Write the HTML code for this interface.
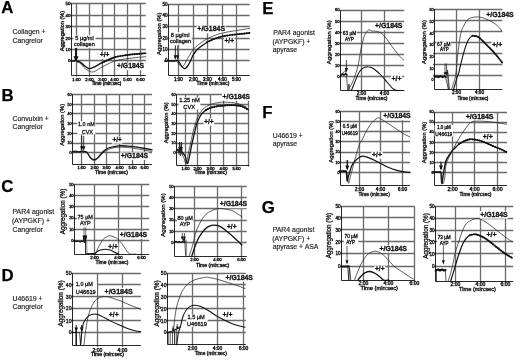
<!DOCTYPE html>
<html><head><meta charset="utf-8"><title>Figure</title>
<style>html,body{margin:0;padding:0;background:#fff;}svg{display:block;}</style>
</head><body>
<svg width="520" height="360" viewBox="0 0 520 360" font-family="'Liberation Sans', sans-serif">
<rect width="520" height="360" fill="#fff"/>
<line x1="70.0" y1="3.5" x2="145.8" y2="3.5" stroke="#6a6a6a" stroke-width="1.3"/>
<text x="70.5" y="5.4" font-size="4.4" text-anchor="end" fill="#111" stroke="#111" stroke-width="0.32">50</text>
<line x1="70.0" y1="15.5" x2="145.8" y2="15.5" stroke="#6a6a6a" stroke-width="1.3"/>
<text x="70.5" y="16.9" font-size="4.4" text-anchor="end" fill="#111" stroke="#111" stroke-width="0.32">40</text>
<line x1="70.0" y1="26.5" x2="145.8" y2="26.5" stroke="#6a6a6a" stroke-width="1.3"/>
<text x="70.5" y="28.3" font-size="4.4" text-anchor="end" fill="#111" stroke="#111" stroke-width="0.32">30</text>
<line x1="70.0" y1="38.5" x2="145.8" y2="38.5" stroke="#6a6a6a" stroke-width="1.3"/>
<text x="70.5" y="39.8" font-size="4.4" text-anchor="end" fill="#111" stroke="#111" stroke-width="0.32">20</text>
<line x1="70.0" y1="49.5" x2="145.8" y2="49.5" stroke="#6a6a6a" stroke-width="1.3"/>
<text x="70.5" y="51.3" font-size="4.4" text-anchor="end" fill="#111" stroke="#111" stroke-width="0.32">10</text>
<line x1="70.0" y1="60.5" x2="145.8" y2="60.5" stroke="#6a6a6a" stroke-width="1.3"/>
<text x="70.5" y="62.4" font-size="4.4" text-anchor="end" fill="#111" stroke="#111" stroke-width="0.32">0</text>
<line x1="76.5" y1="3.5" x2="76.5" y2="76.7" stroke="#6a6a6a" stroke-width="1.3"/>
<text x="76.5" y="80.5" font-size="4.3" text-anchor="middle" fill="#111" stroke="#111" stroke-width="0.36">1:00</text>
<line x1="89.5" y1="3.5" x2="89.5" y2="76.7" stroke="#6a6a6a" stroke-width="1.3"/>
<text x="89.5" y="80.5" font-size="4.3" text-anchor="middle" fill="#111" stroke="#111" stroke-width="0.36">2:00</text>
<line x1="102.5" y1="3.5" x2="102.5" y2="76.7" stroke="#6a6a6a" stroke-width="1.3"/>
<text x="102.5" y="80.5" font-size="4.3" text-anchor="middle" fill="#111" stroke="#111" stroke-width="0.36">3:00</text>
<line x1="114.5" y1="3.5" x2="114.5" y2="76.7" stroke="#6a6a6a" stroke-width="1.3"/>
<text x="114.5" y="80.5" font-size="4.3" text-anchor="middle" fill="#111" stroke="#111" stroke-width="0.36">4:00</text>
<line x1="127.5" y1="3.5" x2="127.5" y2="76.7" stroke="#6a6a6a" stroke-width="1.3"/>
<text x="127.5" y="80.5" font-size="4.3" text-anchor="middle" fill="#111" stroke="#111" stroke-width="0.36">5:00</text>
<line x1="140.5" y1="3.5" x2="140.5" y2="76.7" stroke="#6a6a6a" stroke-width="1.3"/>
<text x="140.5" y="80.5" font-size="4.3" text-anchor="middle" fill="#111" stroke="#111" stroke-width="0.36">6:00</text>
<line x1="71.5" y1="3.5" x2="71.5" y2="75.5" stroke="#111" stroke-width="0.9"/>
<line x1="71.5" y1="75.5" x2="145.8" y2="75.5" stroke="#111" stroke-width="0.9"/>
<rect x="73.4" y="35.2" width="22.1" height="12.6" fill="#fff"/>
<rect x="99.3" y="51.6" width="10.6" height="7.2" fill="#fff"/>
<rect x="116.4" y="62.7" width="28.2" height="7.5" fill="#fff"/>
<text x="63.8" y="31.0" font-size="5.6" text-anchor="middle" fill="#111" stroke="#111" stroke-width="0.3" transform="rotate(-90 63.8 31.0)">Aggregation (%)</text>
<text x="106.5" y="84.8" font-size="4.5" text-anchor="middle" fill="#111" stroke="#111" stroke-width="0.36">Time (min:sec)</text>
<path d="M71.0,60.8 C71.6,60.8 73.7,61.2 74.5,61.0 C75.3,60.8 75.4,59.4 75.8,59.5 C76.2,59.6 76.3,61.1 77.0,61.5 C77.7,61.9 78.8,61.1 80.0,61.8 C81.2,62.4 82.5,64.3 84.0,65.4 C85.5,66.5 87.4,68.3 89.0,68.6 C90.6,68.9 91.6,68.2 93.8,67.2 C96.0,66.2 98.9,64.3 102.3,62.7 C105.7,61.1 109.8,58.8 114.0,57.5 C118.2,56.2 123.5,55.6 127.3,55.0 C131.1,54.4 133.9,54.3 137.0,54.0 C140.1,53.7 144.3,53.4 145.8,53.3" fill="none" stroke="#111" stroke-width="1.4" stroke-linejoin="round" stroke-linecap="round"/>
<path d="M102.3,62.7 C104.2,61.8 109.8,58.8 114.0,57.5 C118.2,56.2 123.5,55.6 127.3,55.0 C131.1,54.4 133.9,54.3 137.0,54.0 C140.1,53.7 144.3,53.4 145.8,53.3" fill="none" stroke="#111" stroke-width="1.9" stroke-linecap="round" stroke-dasharray="0.01 2.4"/>
<path d="M71.0,61.2 C71.6,61.2 73.7,61.7 74.5,61.5 C75.3,61.3 75.4,59.9 75.8,60.0 C76.2,60.1 76.3,61.5 77.0,62.0 C77.7,62.5 78.7,61.9 80.0,63.0 C81.3,64.1 83.1,66.9 85.0,68.4 C86.9,69.9 89.4,71.5 91.3,71.9 C93.2,72.3 94.4,71.4 96.2,70.6 C98.0,69.8 99.3,68.5 102.3,67.0 C105.3,65.5 109.8,62.7 114.0,61.3 C118.2,59.9 123.5,59.3 127.3,58.7 C131.1,58.1 133.9,57.8 137.0,57.5 C140.1,57.2 144.3,56.8 145.8,56.7" fill="none" stroke="#262626" stroke-width="0.75" stroke-linejoin="round" stroke-linecap="round"/>
<line x1="76.0" y1="48.0" x2="76.0" y2="60.0" stroke="#111" stroke-width="1.9"/>
<path d="M73.4,56.3 L78.6,56.3 L76.0,61.5Z" fill="#111"/>
<text x="75.3" y="39.8" font-size="5.6" fill="#111" stroke="#111" stroke-width="0.3">5 µg/ml</text>
<text x="74.0" y="46.0" font-size="5.6" fill="#111" stroke="#111" stroke-width="0.3">collagen</text>
<text x="99.9" y="56.9" font-size="6.5" font-weight="bold" fill="#111" stroke="#111" stroke-width="0.3">+/+</text>
<text x="117.0" y="68.2" font-size="6.8" font-weight="bold" fill="#111" stroke="#111" stroke-width="0.3">+/G184S</text>
<line x1="167.0" y1="4.5" x2="249.7" y2="4.5" stroke="#6a6a6a" stroke-width="1.3"/>
<text x="167.5" y="5.8" font-size="4.5" text-anchor="end" fill="#111" stroke="#111" stroke-width="0.32">50</text>
<line x1="167.0" y1="15.5" x2="249.7" y2="15.5" stroke="#6a6a6a" stroke-width="1.3"/>
<text x="167.5" y="16.9" font-size="4.5" text-anchor="end" fill="#111" stroke="#111" stroke-width="0.32">40</text>
<line x1="167.0" y1="26.5" x2="249.7" y2="26.5" stroke="#6a6a6a" stroke-width="1.3"/>
<text x="167.5" y="28.3" font-size="4.5" text-anchor="end" fill="#111" stroke="#111" stroke-width="0.32">30</text>
<line x1="167.0" y1="38.5" x2="249.7" y2="38.5" stroke="#6a6a6a" stroke-width="1.3"/>
<text x="167.5" y="39.7" font-size="4.5" text-anchor="end" fill="#111" stroke="#111" stroke-width="0.32">20</text>
<line x1="167.0" y1="49.5" x2="249.7" y2="49.5" stroke="#6a6a6a" stroke-width="1.3"/>
<text x="167.5" y="51.3" font-size="4.5" text-anchor="end" fill="#111" stroke="#111" stroke-width="0.32">10</text>
<line x1="167.0" y1="60.5" x2="249.7" y2="60.5" stroke="#6a6a6a" stroke-width="1.3"/>
<text x="167.5" y="62.4" font-size="4.5" text-anchor="end" fill="#111" stroke="#111" stroke-width="0.32">0</text>
<line x1="178.5" y1="4.5" x2="178.5" y2="76.7" stroke="#6a6a6a" stroke-width="1.3"/>
<text x="178.5" y="80.7" font-size="4.5" text-anchor="middle" fill="#111" stroke="#111" stroke-width="0.36">1:00</text>
<line x1="193.5" y1="4.5" x2="193.5" y2="76.7" stroke="#6a6a6a" stroke-width="1.3"/>
<text x="193.5" y="80.7" font-size="4.5" text-anchor="middle" fill="#111" stroke="#111" stroke-width="0.36">2:00</text>
<line x1="207.5" y1="4.5" x2="207.5" y2="76.7" stroke="#6a6a6a" stroke-width="1.3"/>
<text x="207.5" y="80.7" font-size="4.5" text-anchor="middle" fill="#111" stroke="#111" stroke-width="0.36">3:00</text>
<line x1="222.5" y1="4.5" x2="222.5" y2="76.7" stroke="#6a6a6a" stroke-width="1.3"/>
<text x="222.5" y="80.7" font-size="4.5" text-anchor="middle" fill="#111" stroke="#111" stroke-width="0.36">4:00</text>
<line x1="236.5" y1="4.5" x2="236.5" y2="76.7" stroke="#6a6a6a" stroke-width="1.3"/>
<text x="236.5" y="80.7" font-size="4.5" text-anchor="middle" fill="#111" stroke="#111" stroke-width="0.36">5:00</text>
<line x1="168.5" y1="4.5" x2="168.5" y2="75.5" stroke="#111" stroke-width="0.9"/>
<line x1="168.5" y1="75.5" x2="249.7" y2="75.5" stroke="#111" stroke-width="0.9"/>
<rect x="169.4" y="32.3" width="22.4" height="12.4" fill="#fff"/>
<rect x="196.7" y="25.7" width="29.0" height="7.6" fill="#fff"/>
<rect x="223.9" y="37.8" width="10.7" height="7.3" fill="#fff"/>
<text x="160.6" y="33.7" font-size="5.9" text-anchor="middle" fill="#111" stroke="#111" stroke-width="0.3" transform="rotate(-90 160.6 33.7)">Aggregation (%)</text>
<text x="213.0" y="85.0" font-size="5.0" text-anchor="middle" fill="#111" stroke="#111" stroke-width="0.36">Time (min:sec)</text>
<path d="M164.5,60.8 C166.1,60.8 171.7,61.0 173.8,61.0 C175.9,61.0 176.1,60.3 177.0,60.5 C177.9,60.7 178.2,61.1 179.0,62.0 C179.8,62.9 180.6,64.9 181.5,66.0 C182.4,67.1 183.5,68.6 184.5,68.7 C185.5,68.8 186.4,67.7 187.3,66.5 C188.2,65.3 189.2,63.5 190.2,61.5 C191.2,59.5 192.1,56.6 193.5,54.4 C194.9,52.2 196.3,50.3 198.6,48.3 C200.9,46.3 204.3,43.9 207.1,42.2 C209.9,40.6 212.9,39.4 215.6,38.4 C218.3,37.4 219.7,36.9 223.2,36.2 C226.7,35.5 232.3,34.8 236.7,34.3 C241.1,33.8 247.5,33.2 249.7,33.0" fill="none" stroke="#111" stroke-width="1.3" stroke-linejoin="round" stroke-linecap="round"/>
<path d="M207.1,42.2 C208.5,41.6 212.9,39.4 215.6,38.4 C218.3,37.4 219.7,36.9 223.2,36.2 C226.7,35.5 232.3,34.8 236.7,34.3 C241.1,33.8 247.5,33.2 249.7,33.0" fill="none" stroke="#111" stroke-width="1.9" stroke-linecap="round" stroke-dasharray="0.01 2.4"/>
<path d="M164.5,61.2 C166.1,61.2 171.9,61.6 173.8,61.5 C175.8,61.4 175.5,60.5 176.2,60.8 C176.9,61.0 177.1,62.0 178.0,63.0 C178.9,64.0 180.7,66.7 181.7,67.0 C182.7,67.3 183.2,66.0 184.0,65.0 C184.8,64.0 185.2,62.8 186.2,61.0 C187.2,59.2 189.0,56.0 190.2,54.0 C191.4,52.0 192.1,50.8 193.5,49.2 C194.9,47.6 196.3,46.2 198.6,44.5 C200.9,42.8 204.3,40.4 207.1,38.8 C209.9,37.2 212.9,36.1 215.6,35.1 C218.3,34.1 219.7,33.6 223.2,32.8 C226.7,32.0 232.3,31.2 236.7,30.5 C241.1,29.8 247.5,28.7 249.7,28.3" fill="none" stroke="#262626" stroke-width="0.75" stroke-linejoin="round" stroke-linecap="round"/>
<line x1="175.3" y1="45.4" x2="175.3" y2="58.4" stroke="#111" stroke-width="0.9"/>
<path d="M173.7,55.3 L176.9,55.3 L175.3,59.9Z" fill="#111"/>
<line x1="177.6" y1="45.4" x2="177.6" y2="58.4" stroke="#111" stroke-width="0.6"/>
<path d="M176.1,55.3 L179.1,55.3 L177.6,59.9Z" fill="#111"/>
<text x="170.7" y="37.0" font-size="5.7" fill="#111" stroke="#111" stroke-width="0.3">8 µg/ml</text>
<text x="170.0" y="43.0" font-size="5.7" fill="#111" stroke="#111" stroke-width="0.3">collagen</text>
<text x="197.3" y="31.3" font-size="7.0" font-weight="bold" fill="#111" stroke="#111" stroke-width="0.3">+/G184S</text>
<text x="224.5" y="43.2" font-size="6.6" font-weight="bold" fill="#111" stroke="#111" stroke-width="0.3">+/+</text>
<line x1="71.0" y1="94.5" x2="152.0" y2="94.5" stroke="#6a6a6a" stroke-width="1.3"/>
<text x="71.5" y="95.6" font-size="3.5" text-anchor="end" fill="#111" stroke="#111" stroke-width="0.32">60</text>
<line x1="71.0" y1="104.5" x2="152.0" y2="104.5" stroke="#6a6a6a" stroke-width="1.3"/>
<text x="71.5" y="105.5" font-size="3.5" text-anchor="end" fill="#111" stroke="#111" stroke-width="0.32">50</text>
<line x1="71.0" y1="113.5" x2="152.0" y2="113.5" stroke="#6a6a6a" stroke-width="1.3"/>
<text x="71.5" y="115.1" font-size="3.5" text-anchor="end" fill="#111" stroke="#111" stroke-width="0.32">40</text>
<line x1="71.0" y1="123.5" x2="152.0" y2="123.5" stroke="#6a6a6a" stroke-width="1.3"/>
<text x="71.5" y="124.8" font-size="3.5" text-anchor="end" fill="#111" stroke="#111" stroke-width="0.32">30</text>
<line x1="71.0" y1="133.5" x2="152.0" y2="133.5" stroke="#6a6a6a" stroke-width="1.3"/>
<text x="71.5" y="134.5" font-size="3.5" text-anchor="end" fill="#111" stroke="#111" stroke-width="0.32">20</text>
<line x1="71.0" y1="143.5" x2="152.0" y2="143.5" stroke="#6a6a6a" stroke-width="1.3"/>
<text x="71.5" y="144.3" font-size="3.5" text-anchor="end" fill="#111" stroke="#111" stroke-width="0.32">10</text>
<line x1="71.0" y1="152.5" x2="152.0" y2="152.5" stroke="#6a6a6a" stroke-width="1.3"/>
<text x="71.5" y="154.1" font-size="3.5" text-anchor="end" fill="#111" stroke="#111" stroke-width="0.32">0</text>
<line x1="81.5" y1="94.5" x2="81.5" y2="165.7" stroke="#6a6a6a" stroke-width="1.3"/>
<text x="81.5" y="169.1" font-size="4.2" text-anchor="middle" fill="#111" stroke="#111" stroke-width="0.36">1:00</text>
<line x1="94.5" y1="94.5" x2="94.5" y2="165.7" stroke="#6a6a6a" stroke-width="1.3"/>
<text x="94.5" y="169.1" font-size="4.2" text-anchor="middle" fill="#111" stroke="#111" stroke-width="0.36">2:00</text>
<line x1="106.5" y1="94.5" x2="106.5" y2="165.7" stroke="#6a6a6a" stroke-width="1.3"/>
<text x="106.5" y="169.1" font-size="4.2" text-anchor="middle" fill="#111" stroke="#111" stroke-width="0.36">3:00</text>
<line x1="119.5" y1="94.5" x2="119.5" y2="165.7" stroke="#6a6a6a" stroke-width="1.3"/>
<text x="119.5" y="169.1" font-size="4.2" text-anchor="middle" fill="#111" stroke="#111" stroke-width="0.36">4:00</text>
<line x1="132.5" y1="94.5" x2="132.5" y2="165.7" stroke="#6a6a6a" stroke-width="1.3"/>
<text x="132.5" y="169.1" font-size="4.2" text-anchor="middle" fill="#111" stroke="#111" stroke-width="0.36">5:00</text>
<line x1="144.5" y1="94.5" x2="144.5" y2="165.7" stroke="#6a6a6a" stroke-width="1.3"/>
<text x="144.5" y="169.1" font-size="4.2" text-anchor="middle" fill="#111" stroke="#111" stroke-width="0.36">6:00</text>
<line x1="72.5" y1="94.5" x2="72.5" y2="164.5" stroke="#111" stroke-width="0.9"/>
<line x1="72.5" y1="164.5" x2="152.0" y2="164.5" stroke="#111" stroke-width="0.9"/>
<rect x="77.4" y="121.4" width="18.0" height="13.0" fill="#fff"/>
<rect x="111.9" y="136.5" width="10.5" height="7.1" fill="#fff"/>
<rect x="120.2" y="152.4" width="28.6" height="7.5" fill="#fff"/>
<text x="64.5" y="124.8" font-size="5.8" text-anchor="middle" fill="#111" stroke="#111" stroke-width="0.3" transform="rotate(-90 64.5 124.8)">Aggregation (%)</text>
<text x="111.5" y="173.5" font-size="5.0" text-anchor="middle" fill="#111" stroke="#111" stroke-width="0.36">Time (min:sec)</text>
<path d="M72.5,151.7 C72.9,151.6 74.0,151.2 75.0,151.2 C76.0,151.2 77.5,151.8 78.8,151.8 C80.0,151.8 81.3,151.2 82.5,151.2 C83.7,151.2 84.8,151.2 85.8,151.7 C86.8,152.2 87.5,153.1 88.3,154.2 C89.1,155.2 89.8,157.1 90.8,158.0 C91.8,158.9 93.1,159.8 94.2,159.8 C95.3,159.8 96.4,158.9 97.5,158.0 C98.6,157.1 99.5,155.5 100.8,154.2 C102.0,152.9 103.5,151.1 105.0,150.0 C106.5,148.9 107.8,148.2 110.0,147.5 C112.2,146.8 115.6,146.1 118.3,145.8 C121.0,145.6 123.5,145.8 126.0,146.0 C128.5,146.2 130.1,146.3 133.3,146.7 C136.5,147.1 141.9,148.0 145.0,148.5 C148.1,149.0 150.8,149.5 152.0,149.7" fill="none" stroke="#111" stroke-width="1.3" stroke-linejoin="round" stroke-linecap="round"/>
<path d="M72.5,152.4 C73.5,152.4 76.6,152.2 78.8,152.2 C81.0,152.2 84.2,151.9 85.8,152.4 C87.4,152.9 87.5,153.9 88.3,154.9 C89.1,155.9 89.8,157.8 90.8,158.7 C91.8,159.6 93.1,160.5 94.2,160.5 C95.3,160.5 96.4,159.7 97.5,158.8 C98.6,157.9 99.5,156.5 100.8,155.2 C102.0,153.9 103.5,152.3 105.0,151.2 C106.5,150.1 107.8,149.5 110.0,148.8 C112.2,148.1 115.6,147.4 118.3,147.2 C121.0,147.0 123.5,147.2 126.0,147.4 C128.5,147.6 130.1,147.7 133.3,148.2 C136.5,148.7 141.9,149.7 145.0,150.2 C148.1,150.7 150.8,151.1 152.0,151.3" fill="none" stroke="#262626" stroke-width="0.75" stroke-linejoin="round" stroke-linecap="round"/>
<line x1="81.7" y1="135.8" x2="81.7" y2="149.3" stroke="#111" stroke-width="0.8"/>
<path d="M80.1,146.3 L83.3,146.3 L81.7,150.8Z" fill="#111"/>
<line x1="83.7" y1="135.8" x2="83.7" y2="149.3" stroke="#111" stroke-width="0.8"/>
<path d="M82.1,146.3 L85.3,146.3 L83.7,150.8Z" fill="#111"/>
<text x="78.0" y="126.0" font-size="5.5" fill="#111" stroke="#111" stroke-width="0.3">1.0 nM</text>
<text x="81.7" y="133.8" font-size="5.5" fill="#111" stroke="#111" stroke-width="0.3">CVX</text>
<text x="112.5" y="141.7" font-size="6.4" font-weight="bold" fill="#111" stroke="#111" stroke-width="0.3">+/+</text>
<text x="120.8" y="158.0" font-size="6.9" font-weight="bold" fill="#111" stroke="#111" stroke-width="0.3">+/G184S</text>
<line x1="175.0" y1="94.5" x2="249.2" y2="94.5" stroke="#6a6a6a" stroke-width="1.3"/>
<text x="175.5" y="95.6" font-size="3.5" text-anchor="end" fill="#111" stroke="#111" stroke-width="0.32">60</text>
<line x1="175.0" y1="104.5" x2="249.2" y2="104.5" stroke="#6a6a6a" stroke-width="1.3"/>
<text x="175.5" y="105.5" font-size="3.5" text-anchor="end" fill="#111" stroke="#111" stroke-width="0.32">50</text>
<line x1="175.0" y1="113.5" x2="249.2" y2="113.5" stroke="#6a6a6a" stroke-width="1.3"/>
<text x="175.5" y="115.1" font-size="3.5" text-anchor="end" fill="#111" stroke="#111" stroke-width="0.32">40</text>
<line x1="175.0" y1="123.5" x2="249.2" y2="123.5" stroke="#6a6a6a" stroke-width="1.3"/>
<text x="175.5" y="124.6" font-size="3.5" text-anchor="end" fill="#111" stroke="#111" stroke-width="0.32">30</text>
<line x1="175.0" y1="133.5" x2="249.2" y2="133.5" stroke="#6a6a6a" stroke-width="1.3"/>
<text x="175.5" y="134.5" font-size="3.5" text-anchor="end" fill="#111" stroke="#111" stroke-width="0.32">20</text>
<line x1="175.0" y1="143.5" x2="249.2" y2="143.5" stroke="#6a6a6a" stroke-width="1.3"/>
<text x="175.5" y="144.3" font-size="3.5" text-anchor="end" fill="#111" stroke="#111" stroke-width="0.32">10</text>
<line x1="175.0" y1="152.5" x2="249.2" y2="152.5" stroke="#6a6a6a" stroke-width="1.3"/>
<text x="175.5" y="154.1" font-size="3.5" text-anchor="end" fill="#111" stroke="#111" stroke-width="0.32">0</text>
<line x1="185.5" y1="94.5" x2="185.5" y2="166.7" stroke="#6a6a6a" stroke-width="1.3"/>
<text x="185.5" y="170.0" font-size="4.2" text-anchor="middle" fill="#111" stroke="#111" stroke-width="0.36">1:00</text>
<line x1="197.5" y1="94.5" x2="197.5" y2="166.7" stroke="#6a6a6a" stroke-width="1.3"/>
<text x="197.5" y="170.0" font-size="4.2" text-anchor="middle" fill="#111" stroke="#111" stroke-width="0.36">2:00</text>
<line x1="210.5" y1="94.5" x2="210.5" y2="166.7" stroke="#6a6a6a" stroke-width="1.3"/>
<text x="210.5" y="170.0" font-size="4.2" text-anchor="middle" fill="#111" stroke="#111" stroke-width="0.36">3:00</text>
<line x1="223.5" y1="94.5" x2="223.5" y2="166.7" stroke="#6a6a6a" stroke-width="1.3"/>
<text x="223.5" y="170.0" font-size="4.2" text-anchor="middle" fill="#111" stroke="#111" stroke-width="0.36">4:00</text>
<line x1="236.5" y1="94.5" x2="236.5" y2="166.7" stroke="#6a6a6a" stroke-width="1.3"/>
<text x="236.5" y="170.0" font-size="4.2" text-anchor="middle" fill="#111" stroke="#111" stroke-width="0.36">5:00</text>
<line x1="248.5" y1="94.5" x2="248.5" y2="166.7" stroke="#6a6a6a" stroke-width="1.3"/>
<line x1="176.5" y1="94.5" x2="176.5" y2="165.5" stroke="#111" stroke-width="0.9"/>
<line x1="176.5" y1="165.5" x2="249.2" y2="165.5" stroke="#111" stroke-width="0.9"/>
<rect x="178.6" y="97.5" width="21.8" height="11.9" fill="#fff"/>
<rect x="221.9" y="93.2" width="28.6" height="7.5" fill="#fff"/>
<rect x="203.6" y="118.4" width="10.7" height="7.3" fill="#fff"/>
<text x="168.5" y="122.8" font-size="5.7" text-anchor="middle" fill="#111" stroke="#111" stroke-width="0.3" transform="rotate(-90 168.5 122.8)">Aggregation (%)</text>
<text x="210.7" y="174.0" font-size="4.9" text-anchor="middle" fill="#111" stroke="#111" stroke-width="0.36">Time (min:sec)</text>
<path d="M176.3,151.0 C176.6,150.7 177.5,148.9 178.0,149.2 C178.5,149.4 178.8,152.7 179.2,152.5 C179.6,152.3 180.1,148.1 180.5,148.0 C180.9,147.9 181.1,150.5 181.8,151.8 C182.6,153.1 184.1,153.8 185.0,155.8 C185.9,157.8 186.8,163.7 187.5,163.7 C188.2,163.7 188.8,159.1 189.5,156.0 C190.2,152.9 190.9,148.7 191.7,145.0 C192.5,141.3 193.4,137.4 194.2,134.0 C195.0,130.6 195.7,127.0 196.6,124.3 C197.5,121.5 198.6,119.3 199.5,117.5 C200.4,115.7 201.2,114.5 202.3,113.2 C203.4,112.0 204.8,110.9 206.0,110.0 C207.2,109.1 208.2,108.6 209.8,108.0 C211.4,107.4 213.6,107.0 215.5,106.6 C217.4,106.2 218.5,106.0 221.2,105.8 C223.9,105.6 228.3,105.1 231.7,105.2 C235.1,105.3 238.9,105.5 241.7,106.3 C244.5,107.0 247.2,109.1 248.3,109.7" fill="none" stroke="#111" stroke-width="1.3" stroke-linejoin="round" stroke-linecap="round"/>
<path d="M206.0,110.0 C206.6,109.7 208.2,108.6 209.8,108.0 C211.4,107.4 213.6,107.0 215.5,106.6 C217.4,106.2 218.5,106.0 221.2,105.8 C223.9,105.6 228.3,105.1 231.7,105.2 C235.1,105.3 238.9,105.5 241.7,106.3 C244.5,107.0 247.2,109.1 248.3,109.7" fill="none" stroke="#111" stroke-width="2.1" stroke-linecap="round" stroke-dasharray="0.01 2.2"/>
<path d="M176.3,151.8 C176.7,151.6 178.0,150.4 178.8,150.5 C179.6,150.6 180.2,151.4 181.0,152.5 C181.8,153.6 182.6,155.1 183.5,157.0 C184.4,158.9 185.6,164.3 186.3,164.0 C187.1,163.7 187.3,158.2 188.0,155.0 C188.7,151.8 189.4,148.5 190.2,145.0 C191.0,141.5 191.8,137.5 192.6,134.0 C193.4,130.5 194.4,126.8 195.2,124.0 C196.0,121.2 196.7,119.5 197.6,117.5 C198.5,115.5 199.3,113.9 200.4,112.3 C201.5,110.7 202.8,109.2 204.2,108.0 C205.6,106.8 207.2,106.0 208.9,105.2 C210.6,104.4 212.6,103.8 214.6,103.3 C216.6,102.8 219.2,102.4 221.2,102.2 C223.2,102.0 224.1,102.0 226.7,102.2 C229.3,102.4 233.4,102.5 236.7,103.3 C240.0,104.1 245.0,106.5 246.7,107.2" fill="none" stroke="#262626" stroke-width="0.75" stroke-linejoin="round" stroke-linecap="round"/>
<path d="M179.0,155.0 L179.5,142.0 L180.5,156.0 L181.5,142.5 L182.3,155.0" fill="none" stroke="#262626" stroke-width="0.75" stroke-linejoin="round" stroke-linecap="round"/>
<line x1="179.6" y1="142.0" x2="179.6" y2="149.0" stroke="#111" stroke-width="0.7"/>
<path d="M178.2,146.9 L181.0,146.9 L179.6,150.5Z" fill="#111"/>
<line x1="181.3" y1="142.0" x2="181.3" y2="149.0" stroke="#111" stroke-width="0.7"/>
<path d="M179.9,146.9 L182.7,146.9 L181.3,150.5Z" fill="#111"/>
<text x="179.2" y="102.2" font-size="5.7" fill="#111" stroke="#111" stroke-width="0.3">1.25 nM</text>
<text x="183.3" y="108.8" font-size="5.7" fill="#111" stroke="#111" stroke-width="0.3">CVX</text>
<text x="222.5" y="98.8" font-size="6.9" font-weight="bold" fill="#111" stroke="#111" stroke-width="0.3">+/G184S</text>
<text x="204.2" y="123.8" font-size="6.6" font-weight="bold" fill="#111" stroke="#111" stroke-width="0.3">+/+</text>
<line x1="73.0" y1="184.5" x2="149.2" y2="184.5" stroke="#6a6a6a" stroke-width="1.3"/>
<text x="73.5" y="185.7" font-size="3.9" text-anchor="end" fill="#111" stroke="#111" stroke-width="0.32">50</text>
<line x1="73.0" y1="195.5" x2="149.2" y2="195.5" stroke="#6a6a6a" stroke-width="1.3"/>
<text x="73.5" y="196.9" font-size="3.9" text-anchor="end" fill="#111" stroke="#111" stroke-width="0.32">40</text>
<line x1="73.0" y1="206.5" x2="149.2" y2="206.5" stroke="#6a6a6a" stroke-width="1.3"/>
<text x="73.5" y="208.1" font-size="3.9" text-anchor="end" fill="#111" stroke="#111" stroke-width="0.32">30</text>
<line x1="73.0" y1="218.5" x2="149.2" y2="218.5" stroke="#6a6a6a" stroke-width="1.3"/>
<text x="73.5" y="219.4" font-size="3.9" text-anchor="end" fill="#111" stroke="#111" stroke-width="0.32">20</text>
<line x1="73.0" y1="229.5" x2="149.2" y2="229.5" stroke="#6a6a6a" stroke-width="1.3"/>
<text x="73.5" y="230.7" font-size="3.9" text-anchor="end" fill="#111" stroke="#111" stroke-width="0.32">10</text>
<line x1="73.0" y1="240.5" x2="149.2" y2="240.5" stroke="#6a6a6a" stroke-width="1.3"/>
<text x="73.5" y="241.9" font-size="3.9" text-anchor="end" fill="#111" stroke="#111" stroke-width="0.32">0</text>
<line x1="94.5" y1="184.5" x2="94.5" y2="255.7" stroke="#6a6a6a" stroke-width="1.3"/>
<text x="94.5" y="258.8" font-size="4.4" text-anchor="middle" fill="#111" stroke="#111" stroke-width="0.36">2:00</text>
<line x1="118.5" y1="184.5" x2="118.5" y2="255.7" stroke="#6a6a6a" stroke-width="1.3"/>
<text x="118.5" y="258.8" font-size="4.4" text-anchor="middle" fill="#111" stroke="#111" stroke-width="0.36">4:00</text>
<line x1="141.5" y1="184.5" x2="141.5" y2="255.7" stroke="#6a6a6a" stroke-width="1.3"/>
<text x="141.5" y="258.8" font-size="4.4" text-anchor="middle" fill="#111" stroke="#111" stroke-width="0.36">6:00</text>
<line x1="74.5" y1="184.5" x2="74.5" y2="254.5" stroke="#111" stroke-width="0.9"/>
<line x1="74.5" y1="254.5" x2="149.2" y2="254.5" stroke="#111" stroke-width="0.9"/>
<rect x="76.9" y="214.7" width="16.6" height="11.2" fill="#fff"/>
<rect x="119.2" y="231.2" width="28.6" height="7.5" fill="#fff"/>
<rect x="107.7" y="243.8" width="10.7" height="7.3" fill="#fff"/>
<text x="65.3" y="211.5" font-size="6.3" text-anchor="middle" fill="#111" stroke="#111" stroke-width="0.3" transform="rotate(-90 65.3 211.5)">Aggregation (%)</text>
<text x="112.0" y="263.8" font-size="5.0" text-anchor="middle" fill="#111" stroke="#111" stroke-width="0.36">Time (min:sec)</text>
<path d="M73.5,241.0 L75.0,240.8 L76.5,241.6 L78.0,241.0 L80.0,241.8 L81.5,241.2 L83.0,241.6" fill="none" stroke="#111" stroke-width="1.3" stroke-linejoin="round" stroke-linecap="round"/>
<path d="M83.0,241.6 L83.8,237.5 L84.4,243.0 L85.0,236.5 L85.6,242.0" fill="none" stroke="#111" stroke-width="0.8" stroke-linejoin="round" stroke-linecap="round"/>
<path d="M85.6,241.0 L85.6,253.5 L90.0,253.7 L95.8,253.3" fill="none" stroke="#111" stroke-width="1.0" stroke-linejoin="round" stroke-linecap="round"/>
<path d="M86.6,236.0 L87.1,253.8" fill="none" stroke="#555" stroke-width="0.6" stroke-linejoin="round" stroke-linecap="round"/>
<path d="M95.8,252.8 C96.1,252.6 96.7,251.9 97.5,251.4 C98.3,250.9 99.2,250.3 100.5,250.0 C101.8,249.7 103.4,249.3 105.0,249.3 C106.6,249.3 108.3,249.5 110.0,250.0 C111.7,250.5 113.6,251.8 115.0,252.5 C116.4,253.2 117.9,253.8 118.5,254.0" fill="none" stroke="#111" stroke-width="1.1" stroke-linejoin="round" stroke-linecap="round"/>
<path d="M95.2,254.0 C95.5,253.4 96.3,251.7 97.0,250.3 C97.7,248.9 98.3,247.5 99.3,245.7 C100.3,243.9 101.8,241.0 102.9,239.6 C104.0,238.2 104.8,237.8 106.0,237.2 C107.2,236.6 108.2,235.6 110.0,235.8 C111.8,236.0 114.8,237.1 116.7,238.3 C118.7,239.6 120.0,241.2 121.7,243.3 C123.4,245.4 125.3,249.0 126.7,250.8 C128.1,252.6 128.5,253.5 130.0,254.0 C131.5,254.5 134.8,254.0 135.8,254.0" fill="none" stroke="#262626" stroke-width="0.75" stroke-linejoin="round" stroke-linecap="round"/>
<line x1="84.0" y1="227.4" x2="84.0" y2="239.1" stroke="#111" stroke-width="0.6"/>
<path d="M82.5,235.4 L85.5,235.4 L84.0,240.6Z" fill="#111"/>
<line x1="85.7" y1="227.4" x2="85.7" y2="239.1" stroke="#111" stroke-width="0.6"/>
<path d="M84.2,235.4 L87.2,235.4 L85.7,240.6Z" fill="#111"/>
<text x="77.5" y="219.3" font-size="5.5" fill="#111" stroke="#111" stroke-width="0.3">75 µM</text>
<text x="80.0" y="225.3" font-size="5.5" fill="#111" stroke="#111" stroke-width="0.3">AYP</text>
<text x="119.8" y="236.8" font-size="6.9" font-weight="bold" fill="#111" stroke="#111" stroke-width="0.3">+/G184S</text>
<text x="108.3" y="249.2" font-size="6.6" font-weight="bold" fill="#111" stroke="#111" stroke-width="0.3">+/+</text>
<line x1="173.0" y1="186.5" x2="246.7" y2="186.5" stroke="#6a6a6a" stroke-width="1.3"/>
<text x="173.5" y="187.7" font-size="3.9" text-anchor="end" fill="#111" stroke="#111" stroke-width="0.32">50</text>
<line x1="173.0" y1="197.5" x2="246.7" y2="197.5" stroke="#6a6a6a" stroke-width="1.3"/>
<text x="173.5" y="199.0" font-size="3.9" text-anchor="end" fill="#111" stroke="#111" stroke-width="0.32">40</text>
<line x1="173.0" y1="208.5" x2="246.7" y2="208.5" stroke="#6a6a6a" stroke-width="1.3"/>
<text x="173.5" y="210.2" font-size="3.9" text-anchor="end" fill="#111" stroke="#111" stroke-width="0.32">30</text>
<line x1="173.0" y1="220.5" x2="246.7" y2="220.5" stroke="#6a6a6a" stroke-width="1.3"/>
<text x="173.5" y="221.4" font-size="3.9" text-anchor="end" fill="#111" stroke="#111" stroke-width="0.32">20</text>
<line x1="173.0" y1="231.5" x2="246.7" y2="231.5" stroke="#6a6a6a" stroke-width="1.3"/>
<text x="173.5" y="232.6" font-size="3.9" text-anchor="end" fill="#111" stroke="#111" stroke-width="0.32">10</text>
<line x1="173.0" y1="242.5" x2="246.7" y2="242.5" stroke="#6a6a6a" stroke-width="1.3"/>
<text x="173.5" y="243.6" font-size="3.9" text-anchor="end" fill="#111" stroke="#111" stroke-width="0.32">0</text>
<line x1="194.5" y1="186.5" x2="194.5" y2="257.7" stroke="#6a6a6a" stroke-width="1.3"/>
<text x="194.5" y="261.3" font-size="4.3" text-anchor="middle" fill="#111" stroke="#111" stroke-width="0.36">2:00</text>
<line x1="217.5" y1="186.5" x2="217.5" y2="257.7" stroke="#6a6a6a" stroke-width="1.3"/>
<text x="217.5" y="261.3" font-size="4.3" text-anchor="middle" fill="#111" stroke="#111" stroke-width="0.36">4:00</text>
<line x1="241.5" y1="186.5" x2="241.5" y2="257.7" stroke="#6a6a6a" stroke-width="1.3"/>
<text x="241.5" y="261.3" font-size="4.3" text-anchor="middle" fill="#111" stroke="#111" stroke-width="0.36">6:00</text>
<line x1="174.5" y1="186.5" x2="174.5" y2="256.5" stroke="#111" stroke-width="0.9"/>
<line x1="174.5" y1="256.5" x2="246.7" y2="256.5" stroke="#111" stroke-width="0.9"/>
<rect x="176.9" y="215.1" width="16.6" height="11.5" fill="#fff"/>
<rect x="219.1" y="200.7" width="28.6" height="7.5" fill="#fff"/>
<rect x="226.4" y="223.6" width="10.7" height="7.3" fill="#fff"/>
<text x="165.0" y="215.0" font-size="6.0" text-anchor="middle" fill="#111" stroke="#111" stroke-width="0.3" transform="rotate(-90 165.0 215.0)">Aggregation (%)</text>
<text x="212.7" y="266.5" font-size="5.05" text-anchor="middle" fill="#111" stroke="#111" stroke-width="0.36">Time (min:sec)</text>
<path d="M174.6,241.7 L176.0,241.3 L177.5,242.2 L179.0,241.5 L181.0,242.3 L182.8,241.6" fill="none" stroke="#111" stroke-width="1.3" stroke-linejoin="round" stroke-linecap="round"/>
<path d="M182.8,241.6 L183.4,238.5 L184.0,243.0 L184.6,238.0 L185.0,242.0" fill="none" stroke="#111" stroke-width="0.8" stroke-linejoin="round" stroke-linecap="round"/>
<path d="M184.9,241.0 L185.6,255.5" fill="none" stroke="#111" stroke-width="0.8" stroke-linejoin="round" stroke-linecap="round"/>
<path d="M186.4,240.0 L186.7,255.5" fill="none" stroke="#444" stroke-width="0.6" stroke-linejoin="round" stroke-linecap="round"/>
<path d="M191.8,255.8 C192.1,255.1 192.8,253.1 193.3,251.5 C193.8,249.9 194.2,248.6 195.0,246.5 C195.8,244.4 196.9,241.4 198.0,239.2 C199.1,237.0 200.5,234.8 201.7,233.1 C202.9,231.4 204.2,229.9 205.4,228.8 C206.6,227.7 207.7,227.0 209.0,226.4 C210.3,225.8 211.5,225.1 213.3,225.1 C215.1,225.1 217.5,225.1 220.0,226.3 C222.5,227.5 225.5,230.2 228.3,232.5 C231.1,234.8 234.5,237.9 236.7,240.0 C238.9,242.1 240.9,244.2 241.7,245.0" fill="none" stroke="#111" stroke-width="1.3" stroke-linejoin="round" stroke-linecap="round"/>
<path d="M189.3,255.8 C189.6,254.9 190.4,252.2 191.0,250.5 C191.6,248.8 191.9,247.8 192.6,245.3 C193.3,242.8 194.2,238.3 195.0,235.5 C195.8,232.7 196.4,230.6 197.4,228.2 C198.4,225.8 200.0,222.9 201.1,220.9 C202.2,218.9 202.9,217.7 204.1,216.3 C205.3,214.9 206.5,213.7 208.3,212.5 C210.1,211.3 212.8,210.0 215.0,209.3 C217.2,208.6 218.9,208.3 221.7,208.5 C224.5,208.7 229.1,209.7 231.7,210.5 C234.2,211.3 235.3,212.4 237.0,213.5 C238.7,214.6 241.2,216.2 242.0,216.8" fill="none" stroke="#262626" stroke-width="0.75" stroke-linejoin="round" stroke-linecap="round"/>
<line x1="182.3" y1="233.0" x2="182.3" y2="238.8" stroke="#111" stroke-width="0.7"/>
<path d="M180.9,236.5 L183.7,236.5 L182.3,240.3Z" fill="#111"/>
<line x1="184.4" y1="233.0" x2="184.4" y2="238.8" stroke="#111" stroke-width="0.7"/>
<path d="M183.0,236.5 L185.8,236.5 L184.4,240.3Z" fill="#111"/>
<text x="177.5" y="219.7" font-size="5.5" fill="#111" stroke="#111" stroke-width="0.3">80 µM</text>
<text x="179.7" y="226.0" font-size="5.5" fill="#111" stroke="#111" stroke-width="0.3">AYP</text>
<text x="219.7" y="206.3" font-size="6.9" font-weight="bold" fill="#111" stroke="#111" stroke-width="0.3">+/G184S</text>
<text x="227.0" y="229.0" font-size="6.6" font-weight="bold" fill="#111" stroke="#111" stroke-width="0.3">+/+</text>
<line x1="71.0" y1="273.5" x2="140.8" y2="273.5" stroke="#6a6a6a" stroke-width="1.3"/>
<text x="71.5" y="274.8" font-size="5.1" text-anchor="end" fill="#111" stroke="#111" stroke-width="0.32">50</text>
<line x1="71.0" y1="284.5" x2="140.8" y2="284.5" stroke="#6a6a6a" stroke-width="1.3"/>
<text x="71.5" y="286.6" font-size="5.1" text-anchor="end" fill="#111" stroke="#111" stroke-width="0.32">40</text>
<line x1="71.0" y1="296.5" x2="140.8" y2="296.5" stroke="#6a6a6a" stroke-width="1.3"/>
<text x="71.5" y="298.6" font-size="5.1" text-anchor="end" fill="#111" stroke="#111" stroke-width="0.32">30</text>
<line x1="71.0" y1="308.5" x2="140.8" y2="308.5" stroke="#6a6a6a" stroke-width="1.3"/>
<text x="71.5" y="310.4" font-size="5.1" text-anchor="end" fill="#111" stroke="#111" stroke-width="0.32">20</text>
<line x1="71.0" y1="320.5" x2="140.8" y2="320.5" stroke="#6a6a6a" stroke-width="1.3"/>
<text x="71.5" y="322.5" font-size="5.1" text-anchor="end" fill="#111" stroke="#111" stroke-width="0.32">10</text>
<line x1="71.0" y1="332.5" x2="140.8" y2="332.5" stroke="#6a6a6a" stroke-width="1.3"/>
<text x="71.5" y="334.3" font-size="5.1" text-anchor="end" fill="#111" stroke="#111" stroke-width="0.32">0</text>
<line x1="97.5" y1="273.5" x2="97.5" y2="346.7" stroke="#6a6a6a" stroke-width="1.3"/>
<text x="97.5" y="351.5" font-size="5.1" text-anchor="middle" fill="#111" stroke="#111" stroke-width="0.36">2:00</text>
<line x1="122.5" y1="273.5" x2="122.5" y2="346.7" stroke="#6a6a6a" stroke-width="1.3"/>
<text x="122.5" y="351.5" font-size="5.1" text-anchor="middle" fill="#111" stroke="#111" stroke-width="0.36">4:00</text>
<line x1="72.5" y1="273.5" x2="72.5" y2="345.5" stroke="#111" stroke-width="0.9"/>
<line x1="72.5" y1="345.5" x2="140.8" y2="345.5" stroke="#111" stroke-width="0.9"/>
<rect x="75.2" y="281.7" width="21.2" height="12.4" fill="#fff"/>
<rect x="103.9" y="287.8" width="29.4" height="7.7" fill="#fff"/>
<rect x="108.1" y="311.3" width="11.2" height="7.5" fill="#fff"/>
<rect x="73.6" y="281.6" width="23.2" height="13.6" fill="#fff"/>
<text x="63.3" y="303.5" font-size="6.4" text-anchor="middle" fill="#111" stroke="#111" stroke-width="0.3" transform="rotate(-90 63.3 303.5)">Aggregation (%)</text>
<text x="107.5" y="356.0" font-size="5.0" text-anchor="middle" fill="#111" stroke="#111" stroke-width="0.36">Time (min:sec)</text>
<path d="M72.8,332.5 L76.2,332.5" fill="none" stroke="#111" stroke-width="1.2" stroke-linejoin="round" stroke-linecap="round"/>
<path d="M76.2,331.0 L76.2,345.0" fill="none" stroke="#111" stroke-width="1.5" stroke-linejoin="round" stroke-linecap="round"/>
<path d="M76.2,332.5 L79.5,332.5 L80.5,345.0 L81.7,332.5" fill="none" stroke="#262626" stroke-width="0.75" stroke-linejoin="round" stroke-linecap="round"/>
<path d="M80.6,345.0 C80.8,342.9 81.2,336.2 81.7,332.5 C82.2,328.8 82.7,325.1 83.7,322.5 C84.7,319.9 86.5,318.0 87.8,316.7 C89.1,315.4 90.3,315.1 91.5,314.6 C92.7,314.1 93.8,313.9 95.0,313.9 C96.2,313.9 97.3,314.4 98.5,314.8 C99.7,315.2 100.0,315.4 102.0,316.4 C104.0,317.4 107.5,319.5 110.3,320.9 C113.1,322.3 116.2,323.7 118.7,324.8 C121.2,325.9 122.8,326.6 125.0,327.5 C127.2,328.4 129.4,329.3 132.0,330.0 C134.6,330.7 139.3,331.5 140.8,331.8" fill="none" stroke="#111" stroke-width="1.05" stroke-linejoin="round" stroke-linecap="round"/>
<path d="M84.0,345.0 C84.2,343.1 84.7,337.8 85.3,333.3 C85.9,328.8 86.8,322.3 87.8,318.0 C88.8,313.7 90.0,310.4 91.2,307.5 C92.5,304.6 93.8,302.2 95.3,300.5 C96.8,298.8 98.6,298.0 100.3,297.3 C102.0,296.6 103.7,296.5 105.3,296.5 C106.9,296.5 108.3,296.9 110.0,297.3 C111.7,297.8 113.3,298.5 115.3,299.2 C117.3,299.9 119.4,300.4 122.0,301.5 C124.6,302.6 127.9,304.2 131.0,305.5 C134.1,306.8 139.2,308.7 140.8,309.3" fill="none" stroke="#262626" stroke-width="0.75" stroke-linejoin="round" stroke-linecap="round"/>
<line x1="76.2" y1="325.0" x2="76.2" y2="330.5" stroke="#111" stroke-width="1.0"/>
<path d="M74.4,327.5 L78.0,327.5 L76.2,332.0Z" fill="#111"/>
<line x1="81.7" y1="325.0" x2="81.7" y2="330.5" stroke="#111" stroke-width="1.0"/>
<path d="M79.9,327.5 L83.5,327.5 L81.7,332.0Z" fill="#111"/>
<text x="75.8" y="286.3" font-size="5.5" fill="#111" stroke="#111" stroke-width="0.3">1.0 µM</text>
<text x="75.8" y="293.5" font-size="5.7" fill="#111" stroke="#111" stroke-width="0.3">U46619</text>
<text x="104.5" y="293.5" font-size="7.1" font-weight="bold" fill="#111" stroke="#111" stroke-width="0.3">+/G184S</text>
<text x="108.7" y="316.9" font-size="6.9" font-weight="bold" fill="#111" stroke="#111" stroke-width="0.3">+/+</text>
<line x1="166.0" y1="273.5" x2="245.8" y2="273.5" stroke="#6a6a6a" stroke-width="1.3"/>
<text x="166.5" y="274.8" font-size="5.1" text-anchor="end" fill="#111" stroke="#111" stroke-width="0.32">50</text>
<line x1="166.0" y1="284.5" x2="245.8" y2="284.5" stroke="#6a6a6a" stroke-width="1.3"/>
<text x="166.5" y="286.6" font-size="5.1" text-anchor="end" fill="#111" stroke="#111" stroke-width="0.32">40</text>
<line x1="166.0" y1="296.5" x2="245.8" y2="296.5" stroke="#6a6a6a" stroke-width="1.3"/>
<text x="166.5" y="298.6" font-size="5.1" text-anchor="end" fill="#111" stroke="#111" stroke-width="0.32">30</text>
<line x1="166.0" y1="308.5" x2="245.8" y2="308.5" stroke="#6a6a6a" stroke-width="1.3"/>
<text x="166.5" y="310.5" font-size="5.1" text-anchor="end" fill="#111" stroke="#111" stroke-width="0.32">20</text>
<line x1="166.0" y1="320.5" x2="245.8" y2="320.5" stroke="#6a6a6a" stroke-width="1.3"/>
<text x="166.5" y="322.6" font-size="5.1" text-anchor="end" fill="#111" stroke="#111" stroke-width="0.32">10</text>
<line x1="166.0" y1="332.5" x2="245.8" y2="332.5" stroke="#6a6a6a" stroke-width="1.3"/>
<text x="166.5" y="334.3" font-size="5.1" text-anchor="end" fill="#111" stroke="#111" stroke-width="0.32">0</text>
<line x1="192.5" y1="273.5" x2="192.5" y2="345.7" stroke="#6a6a6a" stroke-width="1.3"/>
<text x="192.5" y="349.5" font-size="5.0" text-anchor="middle" fill="#111" stroke="#111" stroke-width="0.36">2:00</text>
<line x1="217.5" y1="273.5" x2="217.5" y2="345.7" stroke="#6a6a6a" stroke-width="1.3"/>
<text x="217.5" y="349.5" font-size="5.0" text-anchor="middle" fill="#111" stroke="#111" stroke-width="0.36">4:00</text>
<line x1="243.5" y1="273.5" x2="243.5" y2="345.7" stroke="#6a6a6a" stroke-width="1.3"/>
<text x="243.5" y="349.5" font-size="5.0" text-anchor="middle" fill="#111" stroke="#111" stroke-width="0.36">6:00</text>
<line x1="167.5" y1="273.5" x2="167.5" y2="344.5" stroke="#111" stroke-width="0.9"/>
<line x1="167.5" y1="344.5" x2="245.8" y2="344.5" stroke="#111" stroke-width="0.9"/>
<rect x="186.4" y="314.4" width="21.2" height="12.4" fill="#fff"/>
<rect x="224.9" y="274.1" width="28.6" height="7.5" fill="#fff"/>
<rect x="221.9" y="311.2" width="11.2" height="7.5" fill="#fff"/>
<text x="158.8" y="303.5" font-size="6.4" text-anchor="middle" fill="#111" stroke="#111" stroke-width="0.3" transform="rotate(-90 158.8 303.5)">Aggregation (%)</text>
<text x="210.8" y="355.0" font-size="4.9" text-anchor="middle" fill="#111" stroke="#111" stroke-width="0.36">Time (min:sec)</text>
<path d="M167.5,332.5 L170.0,332.0 L172.5,331.0 L175.0,329.8 L177.5,328.5 L180.0,327.3" fill="none" stroke="#111" stroke-width="1.3" stroke-linejoin="round" stroke-linecap="round"/>
<path d="M173.3,332.5 C173.6,329.8 174.4,320.8 175.0,316.5 C175.6,312.2 176.1,309.3 176.7,306.7 C177.2,304.1 177.7,302.9 178.3,301.0 C178.9,299.1 179.7,296.9 180.5,295.0 C181.3,293.1 182.0,291.2 183.3,289.3 C184.6,287.4 186.4,285.1 188.3,283.5 C190.2,281.9 192.5,280.7 195.0,279.7 C197.5,278.7 201.2,278.1 203.3,277.7 C205.4,277.3 205.1,277.0 207.5,277.3 C209.9,277.6 214.0,278.4 217.5,279.3 C221.0,280.2 224.8,281.6 228.3,282.7 C231.8,283.8 235.5,285.0 238.3,286.0 C241.1,287.0 243.9,288.1 245.0,288.5" fill="none" stroke="#262626" stroke-width="0.75" stroke-linejoin="round" stroke-linecap="round"/>
<path d="M176.7,344.7 C177.0,342.8 177.6,336.6 178.3,333.3 C179.0,330.0 180.0,328.0 180.8,325.0 C181.6,322.0 182.2,318.2 183.3,315.5 C184.4,312.8 185.8,310.2 187.5,308.5 C189.2,306.8 191.2,305.7 193.3,305.3 C195.4,304.9 197.5,305.4 200.0,306.3 C202.5,307.2 205.4,308.8 208.3,310.5 C211.2,312.2 214.2,314.6 217.5,316.5 C220.8,318.4 225.2,320.6 228.3,322.0 C231.4,323.4 233.2,324.1 236.0,325.0 C238.8,325.9 243.5,326.9 245.0,327.3" fill="none" stroke="#111" stroke-width="1.05" stroke-linejoin="round" stroke-linecap="round"/>
<path d="M168.2,332.5 L168.2,344.5 L170.2,344.5 L170.2,332.0 L172.5,331.5 L172.5,344.5" fill="none" stroke="#262626" stroke-width="0.75" stroke-linejoin="round" stroke-linecap="round"/>
<path d="M174.7,331.0 L174.7,344.5" fill="none" stroke="#111" stroke-width="1.0" stroke-linejoin="round" stroke-linecap="round"/>
<path d="M176.7,330.0 L176.7,344.5" fill="none" stroke="#262626" stroke-width="0.75" stroke-linejoin="round" stroke-linecap="round"/>
<line x1="173.0" y1="326.0" x2="173.0" y2="329.5" stroke="#111" stroke-width="0.7"/>
<path d="M171.7,328.5 L174.3,328.5 L173.0,331.0Z" fill="#111"/>
<line x1="177.2" y1="324.0" x2="177.2" y2="327.5" stroke="#111" stroke-width="0.7"/>
<path d="M175.9,326.5 L178.5,326.5 L177.2,329.0Z" fill="#111"/>
<text x="187.5" y="319.0" font-size="5.6" fill="#111" stroke="#111" stroke-width="0.3">1.5 µM</text>
<text x="187.0" y="326.2" font-size="5.7" fill="#111" stroke="#111" stroke-width="0.3">U46619</text>
<text x="225.5" y="279.7" font-size="6.9" font-weight="bold" fill="#111" stroke="#111" stroke-width="0.3">+/G184S</text>
<text x="222.5" y="316.8" font-size="6.9" font-weight="bold" fill="#111" stroke="#111" stroke-width="0.3">+/+</text>
<line x1="339.0" y1="10.5" x2="404.2" y2="10.5" stroke="#6a6a6a" stroke-width="1.3"/>
<text x="339.5" y="11.4" font-size="4.0" text-anchor="end" fill="#111" stroke="#111" stroke-width="0.32">60</text>
<line x1="339.0" y1="21.5" x2="404.2" y2="21.5" stroke="#6a6a6a" stroke-width="1.3"/>
<text x="339.5" y="22.5" font-size="4.0" text-anchor="end" fill="#111" stroke="#111" stroke-width="0.32">50</text>
<line x1="339.0" y1="32.5" x2="404.2" y2="32.5" stroke="#6a6a6a" stroke-width="1.3"/>
<text x="339.5" y="33.6" font-size="4.0" text-anchor="end" fill="#111" stroke="#111" stroke-width="0.32">40</text>
<line x1="339.0" y1="43.5" x2="404.2" y2="43.5" stroke="#6a6a6a" stroke-width="1.3"/>
<text x="339.5" y="44.7" font-size="4.0" text-anchor="end" fill="#111" stroke="#111" stroke-width="0.32">30</text>
<line x1="339.0" y1="54.5" x2="404.2" y2="54.5" stroke="#6a6a6a" stroke-width="1.3"/>
<text x="339.5" y="55.6" font-size="4.0" text-anchor="end" fill="#111" stroke="#111" stroke-width="0.32">20</text>
<line x1="339.0" y1="65.5" x2="404.2" y2="65.5" stroke="#6a6a6a" stroke-width="1.3"/>
<text x="339.5" y="66.7" font-size="4.0" text-anchor="end" fill="#111" stroke="#111" stroke-width="0.32">10</text>
<line x1="339.0" y1="76.5" x2="404.2" y2="76.5" stroke="#6a6a6a" stroke-width="1.3"/>
<text x="339.5" y="77.6" font-size="4.0" text-anchor="end" fill="#111" stroke="#111" stroke-width="0.32">0</text>
<line x1="361.5" y1="10.5" x2="361.5" y2="91.7" stroke="#6a6a6a" stroke-width="1.3"/>
<text x="361.5" y="94.6" font-size="4.8" text-anchor="middle" fill="#111" stroke="#111" stroke-width="0.36">2:00</text>
<line x1="384.5" y1="10.5" x2="384.5" y2="91.7" stroke="#6a6a6a" stroke-width="1.3"/>
<text x="384.5" y="94.6" font-size="4.8" text-anchor="middle" fill="#111" stroke="#111" stroke-width="0.36">4:00</text>
<line x1="340.5" y1="10.5" x2="340.5" y2="90.5" stroke="#111" stroke-width="0.9"/>
<line x1="340.5" y1="90.5" x2="404.2" y2="90.5" stroke="#111" stroke-width="0.9"/>
<rect x="342.2" y="30.6" width="14.6" height="10.5" fill="#fff"/>
<rect x="374.4" y="22.7" width="28.6" height="7.5" fill="#fff"/>
<rect x="390.9" y="75.4" width="11.2" height="7.5" fill="#fff"/>
<text x="331.0" y="42.2" font-size="6.1" text-anchor="middle" fill="#111" stroke="#111" stroke-width="0.3" transform="rotate(-90 331.0 42.2)">Aggregation (%)</text>
<text x="371.5" y="100.0" font-size="4.85" text-anchor="middle" fill="#111" stroke="#111" stroke-width="0.36">Time (min:sec)</text>
<path d="M340.7,75.0 L342.5,74.0 L344.0,75.0 L345.5,73.8 L347.0,74.8" fill="none" stroke="#111" stroke-width="1.6" stroke-linejoin="round" stroke-linecap="round"/>
<path d="M341.0,76.0 L343.5,72.0 L345.5,70.5 L346.5,76.0 L347.8,90.5 L349.0,84.0 L350.0,90.5" fill="none" stroke="#262626" stroke-width="0.75" stroke-linejoin="round" stroke-linecap="round"/>
<path d="M348.0,90.3 C348.4,89.6 349.7,87.4 350.5,86.0 C351.3,84.6 351.8,84.0 352.7,81.8 C353.6,79.6 355.1,75.7 356.0,72.9 C356.9,70.1 357.6,67.5 358.2,65.1 C358.8,62.7 359.0,60.6 359.4,58.4 C359.8,56.2 360.1,53.9 360.4,52.0 C360.7,50.1 361.0,48.6 361.4,47.0 C361.8,45.4 362.0,44.4 362.5,42.5 C363.0,40.6 363.8,37.5 364.5,35.8 C365.2,34.0 365.8,33.0 366.5,32.0 C367.2,31.0 367.8,30.2 368.7,30.0 C369.6,29.8 370.9,30.8 372.0,31.0 C373.1,31.2 374.1,31.0 375.3,31.2 C376.5,31.4 377.9,31.6 379.0,32.0 C380.1,32.4 381.0,33.0 382.0,33.8 C383.0,34.6 383.9,35.5 385.0,36.8 C386.1,38.1 387.5,40.1 388.7,41.7 C389.9,43.3 390.9,45.0 392.0,46.5 C393.1,48.0 394.1,49.3 395.3,50.8 C396.5,52.3 397.6,53.9 399.0,55.5 C400.4,57.1 402.9,59.5 403.7,60.3" fill="none" stroke="#262626" stroke-width="0.75" stroke-linejoin="round" stroke-linecap="round"/>
<path d="M351.4,90.6 C351.7,89.8 352.6,87.5 353.2,86.0 C353.8,84.5 354.1,83.8 354.9,81.8 C355.7,79.8 357.1,76.1 358.2,74.0 C359.3,71.9 360.5,70.3 361.6,69.2 C362.7,68.1 363.9,67.6 365.0,67.2 C366.1,66.8 366.8,66.5 368.2,66.8 C369.6,67.0 371.7,67.4 373.7,68.7 C375.7,70.0 378.1,72.3 380.3,74.5 C382.5,76.7 385.1,79.8 387.0,82.0 C388.9,84.2 390.5,86.4 392.0,87.8 C393.5,89.2 394.2,89.8 396.2,90.3 C398.1,90.8 402.4,90.5 403.7,90.5" fill="none" stroke="#111" stroke-width="1.05" stroke-linejoin="round" stroke-linecap="round"/>
<line x1="346.4" y1="60.0" x2="346.4" y2="71.0" stroke="#111" stroke-width="0.8"/>
<path d="M344.7,68.0 L348.1,68.0 L346.4,72.5Z" fill="#111"/>
<text x="342.8" y="34.7" font-size="4.8" fill="#111" stroke="#111" stroke-width="0.3">63 µM</text>
<text x="345.0" y="40.5" font-size="4.6" fill="#111" stroke="#111" stroke-width="0.3">AYP</text>
<text x="375.0" y="28.3" font-size="6.9" font-weight="bold" fill="#111" stroke="#111" stroke-width="0.3">+/G184S</text>
<text x="391.5" y="81.0" font-size="6.9" font-weight="bold" fill="#111" stroke="#111" stroke-width="0.3">+/+</text>
<line x1="433.0" y1="9.5" x2="502.3" y2="9.5" stroke="#6a6a6a" stroke-width="1.3"/>
<text x="433.5" y="10.8" font-size="3.7" text-anchor="end" fill="#111" stroke="#111" stroke-width="0.32">60</text>
<line x1="433.0" y1="20.5" x2="502.3" y2="20.5" stroke="#6a6a6a" stroke-width="1.3"/>
<text x="433.5" y="22.8" font-size="3.7" text-anchor="end" fill="#111" stroke="#111" stroke-width="0.32">50</text>
<line x1="433.0" y1="31.5" x2="502.3" y2="31.5" stroke="#6a6a6a" stroke-width="1.3"/>
<text x="433.5" y="34.5" font-size="3.7" text-anchor="end" fill="#111" stroke="#111" stroke-width="0.32">40</text>
<line x1="433.0" y1="42.5" x2="502.3" y2="42.5" stroke="#6a6a6a" stroke-width="1.3"/>
<text x="433.5" y="46.1" font-size="3.7" text-anchor="end" fill="#111" stroke="#111" stroke-width="0.32">30</text>
<line x1="433.0" y1="53.5" x2="502.3" y2="53.5" stroke="#6a6a6a" stroke-width="1.3"/>
<text x="433.5" y="58.1" font-size="3.7" text-anchor="end" fill="#111" stroke="#111" stroke-width="0.32">20</text>
<line x1="433.0" y1="64.5" x2="502.3" y2="64.5" stroke="#6a6a6a" stroke-width="1.3"/>
<text x="433.5" y="69.7" font-size="3.7" text-anchor="end" fill="#111" stroke="#111" stroke-width="0.32">10</text>
<line x1="433.0" y1="75.5" x2="502.3" y2="75.5" stroke="#6a6a6a" stroke-width="1.3"/>
<text x="433.5" y="80.8" font-size="3.7" text-anchor="end" fill="#111" stroke="#111" stroke-width="0.32">0</text>
<line x1="456.5" y1="9.5" x2="456.5" y2="90.7" stroke="#6a6a6a" stroke-width="1.3"/>
<text x="456.5" y="93.8" font-size="4.6" text-anchor="middle" fill="#111" stroke="#111" stroke-width="0.36">2:00</text>
<line x1="479.5" y1="9.5" x2="479.5" y2="90.7" stroke="#6a6a6a" stroke-width="1.3"/>
<text x="479.5" y="93.8" font-size="4.6" text-anchor="middle" fill="#111" stroke="#111" stroke-width="0.36">4:00</text>
<line x1="434.5" y1="9.5" x2="434.5" y2="89.5" stroke="#111" stroke-width="0.9"/>
<line x1="434.5" y1="89.5" x2="502.3" y2="89.5" stroke="#111" stroke-width="0.9"/>
<rect x="436.4" y="41.5" width="14.6" height="9.8" fill="#fff"/>
<rect x="485.7" y="11.1" width="28.6" height="7.5" fill="#fff"/>
<rect x="491.6" y="40.9" width="11.2" height="7.5" fill="#fff"/>
<text x="425.5" y="42.0" font-size="6.1" text-anchor="middle" fill="#111" stroke="#111" stroke-width="0.3" transform="rotate(-90 425.5 42.0)">Aggregation (%)</text>
<text x="473.0" y="99.5" font-size="4.7" text-anchor="middle" fill="#111" stroke="#111" stroke-width="0.36">Time (min:sec)</text>
<path d="M434.6,77.0 L436.5,76.3 L438.5,77.2 L440.5,76.2 L442.5,77.2 L444.5,76.3 L446.0,77.0" fill="none" stroke="#111" stroke-width="1.9" stroke-linejoin="round" stroke-linecap="round"/>
<path d="M445.5,77.0 L448.4,89.3 L447.5,70.0 L449.5,89.3 L451.5,89.5" fill="none" stroke="#262626" stroke-width="0.75" stroke-linejoin="round" stroke-linecap="round"/>
<path d="M451.5,89.5 C451.8,88.4 452.8,85.4 453.5,83.0 C454.2,80.6 455.1,79.1 455.7,75.3 C456.3,71.5 456.8,64.2 457.2,60.0 C457.6,55.8 457.7,54.5 458.3,50.0 C458.9,45.5 459.8,37.5 460.8,33.3 C461.8,29.1 462.9,27.4 464.2,25.0 C465.4,22.6 466.5,20.5 468.3,19.2 C470.1,17.9 472.8,17.3 475.0,17.0 C477.2,16.7 479.2,16.9 481.7,17.5 C484.2,18.1 487.5,19.6 490.0,20.8 C492.5,22.1 494.8,23.3 496.7,25.0 C498.6,26.7 500.9,29.8 501.7,30.8" fill="none" stroke="#262626" stroke-width="0.75" stroke-linejoin="round" stroke-linecap="round"/>
<path d="M453.3,90.0 C453.9,88.1 455.8,81.7 456.7,78.7 C457.6,75.7 458.2,75.1 459.0,72.0 C459.8,68.9 460.7,64.2 461.7,60.3 C462.7,56.3 463.9,51.7 465.0,48.3 C466.1,44.9 467.1,42.1 468.3,40.0 C469.6,37.9 470.8,36.3 472.5,35.8 C474.2,35.3 476.2,35.8 478.3,37.0 C480.4,38.2 482.8,41.1 485.0,43.3 C487.2,45.5 489.7,47.9 491.7,50.0 C493.7,52.1 495.2,53.9 497.0,56.0 C498.8,58.1 501.4,61.7 502.3,62.8" fill="none" stroke="#111" stroke-width="1.1" stroke-linejoin="round" stroke-linecap="round"/>
<path d="M472.5,35.8 C473.5,36.0 476.2,35.8 478.3,37.0 C480.4,38.2 482.8,41.1 485.0,43.3 C487.2,45.5 489.7,47.9 491.7,50.0 C493.7,52.1 495.2,53.9 497.0,56.0 C498.8,58.1 501.4,61.7 502.3,62.8" fill="none" stroke="#111" stroke-width="2.0" stroke-linecap="round" stroke-dasharray="0.01 2.0"/>
<line x1="445.0" y1="63.5" x2="445.0" y2="74.0" stroke="#111" stroke-width="0.7"/>
<path d="M443.6,72.3 L446.4,72.3 L445.0,75.5Z" fill="#111"/>
<line x1="446.6" y1="63.5" x2="446.6" y2="74.0" stroke="#111" stroke-width="0.7"/>
<path d="M445.2,72.3 L448.0,72.3 L446.6,75.5Z" fill="#111"/>
<text x="437.0" y="45.6" font-size="4.8" fill="#111" stroke="#111" stroke-width="0.3">67 µM</text>
<text x="440.0" y="50.7" font-size="4.5" fill="#111" stroke="#111" stroke-width="0.3">AYP</text>
<text x="486.3" y="16.7" font-size="6.9" font-weight="bold" fill="#111" stroke="#111" stroke-width="0.3">+/G184S</text>
<text x="492.2" y="46.5" font-size="6.9" font-weight="bold" fill="#111" stroke="#111" stroke-width="0.3">+/+</text>
<line x1="339.0" y1="111.5" x2="410.0" y2="111.5" stroke="#6a6a6a" stroke-width="1.3"/>
<text x="339.5" y="112.6" font-size="3.6" text-anchor="end" fill="#111" stroke="#111" stroke-width="0.32">60</text>
<line x1="339.0" y1="121.5" x2="410.0" y2="121.5" stroke="#6a6a6a" stroke-width="1.3"/>
<text x="339.5" y="122.9" font-size="3.6" text-anchor="end" fill="#111" stroke="#111" stroke-width="0.32">50</text>
<line x1="339.0" y1="131.5" x2="410.0" y2="131.5" stroke="#6a6a6a" stroke-width="1.3"/>
<text x="339.5" y="133.0" font-size="3.6" text-anchor="end" fill="#111" stroke="#111" stroke-width="0.32">40</text>
<line x1="339.0" y1="141.5" x2="410.0" y2="141.5" stroke="#6a6a6a" stroke-width="1.3"/>
<text x="339.5" y="143.0" font-size="3.6" text-anchor="end" fill="#111" stroke="#111" stroke-width="0.32">30</text>
<line x1="339.0" y1="152.5" x2="410.0" y2="152.5" stroke="#6a6a6a" stroke-width="1.3"/>
<text x="339.5" y="153.3" font-size="3.6" text-anchor="end" fill="#111" stroke="#111" stroke-width="0.32">20</text>
<line x1="339.0" y1="162.5" x2="410.0" y2="162.5" stroke="#6a6a6a" stroke-width="1.3"/>
<text x="339.5" y="163.5" font-size="3.6" text-anchor="end" fill="#111" stroke="#111" stroke-width="0.32">10</text>
<line x1="339.0" y1="172.5" x2="410.0" y2="172.5" stroke="#6a6a6a" stroke-width="1.3"/>
<text x="339.5" y="173.5" font-size="3.6" text-anchor="end" fill="#111" stroke="#111" stroke-width="0.32">0</text>
<line x1="359.5" y1="111.5" x2="359.5" y2="186.7" stroke="#6a6a6a" stroke-width="1.3"/>
<text x="359.5" y="190.5" font-size="4.9" text-anchor="middle" fill="#111" stroke="#111" stroke-width="0.36">2:00</text>
<line x1="380.5" y1="111.5" x2="380.5" y2="186.7" stroke="#6a6a6a" stroke-width="1.3"/>
<text x="380.5" y="190.5" font-size="4.9" text-anchor="middle" fill="#111" stroke="#111" stroke-width="0.36">4:00</text>
<line x1="402.5" y1="111.5" x2="402.5" y2="186.7" stroke="#6a6a6a" stroke-width="1.3"/>
<text x="402.5" y="190.5" font-size="4.9" text-anchor="middle" fill="#111" stroke="#111" stroke-width="0.36">6:00</text>
<line x1="340.5" y1="111.5" x2="340.5" y2="185.5" stroke="#111" stroke-width="0.9"/>
<line x1="340.5" y1="185.5" x2="410.0" y2="185.5" stroke="#111" stroke-width="0.9"/>
<rect x="341.1" y="124.4" width="17.3" height="11.2" fill="#fff"/>
<rect x="382.7" y="112.7" width="28.6" height="7.5" fill="#fff"/>
<rect x="371.4" y="151.4" width="11.2" height="7.5" fill="#fff"/>
<text x="332.8" y="141.7" font-size="5.8" text-anchor="middle" fill="#111" stroke="#111" stroke-width="0.3" transform="rotate(-90 332.8 141.7)">Aggregation (%)</text>
<text x="374.2" y="195.8" font-size="4.75" text-anchor="middle" fill="#111" stroke="#111" stroke-width="0.36">Time (min:sec)</text>
<path d="M339.5,171.3 L346.2,171.3" fill="none" stroke="#111" stroke-width="1.9" stroke-linejoin="round" stroke-linecap="round"/>
<path d="M347.2,173.0 C347.4,174.7 348.0,182.4 348.5,183.2 C349.0,184.0 349.5,179.7 350.0,178.0 C350.5,176.3 350.6,175.9 351.3,173.3 C352.0,170.8 353.1,166.0 354.0,162.7 C354.9,159.4 355.8,156.3 356.7,153.3 C357.6,150.3 358.4,146.7 359.3,144.5 C360.2,142.3 360.7,142.4 362.0,140.0 C363.3,137.6 365.3,132.9 367.0,130.0 C368.7,127.1 370.2,124.5 372.0,122.5 C373.8,120.5 376.3,118.6 377.8,118.0 C379.3,117.4 379.8,118.4 381.0,119.0 C382.2,119.6 382.9,120.2 385.3,121.7 C387.7,123.2 392.4,126.4 395.3,128.3 C398.2,130.2 400.6,131.9 403.0,133.3 C405.4,134.8 408.8,136.4 410.0,137.0" fill="none" stroke="#262626" stroke-width="0.75" stroke-linejoin="round" stroke-linecap="round"/>
<path d="M346.4,172.0 C346.5,173.5 346.8,180.1 347.1,180.9 C347.4,181.7 347.8,178.3 348.2,177.0 C348.6,175.7 348.7,175.2 349.3,173.3 C349.9,171.4 350.9,167.5 352.0,165.3 C353.1,163.1 354.7,161.4 356.0,160.0 C357.3,158.6 358.8,157.6 360.0,157.0 C361.2,156.4 361.3,155.8 363.3,156.2 C365.3,156.6 369.2,158.0 372.0,159.2 C374.8,160.4 377.5,161.9 380.3,163.3 C383.1,164.7 385.9,166.3 388.7,167.5 C391.5,168.7 394.4,169.6 397.0,170.3 C399.6,171.0 401.8,171.4 404.0,171.8 C406.2,172.2 409.0,172.4 410.0,172.5" fill="none" stroke="#111" stroke-width="1.3" stroke-linejoin="round" stroke-linecap="round"/>
<line x1="347.3" y1="160.0" x2="347.3" y2="169.0" stroke="#111" stroke-width="1.3"/>
<path d="M345.3,165.5 L349.3,165.5 L347.3,170.5Z" fill="#111"/>
<text x="342.8" y="128.3" font-size="4.6" fill="#111" stroke="#111" stroke-width="0.3">0.5 µM</text>
<text x="341.7" y="135.0" font-size="4.6" fill="#111" stroke="#111" stroke-width="0.3">U46619</text>
<text x="383.3" y="118.3" font-size="6.9" font-weight="bold" fill="#111" stroke="#111" stroke-width="0.3">+/G184S</text>
<text x="372.0" y="157.0" font-size="6.9" font-weight="bold" fill="#111" stroke="#111" stroke-width="0.3">+/+</text>
<line x1="433.0" y1="112.5" x2="507.0" y2="112.5" stroke="#6a6a6a" stroke-width="1.3"/>
<text x="433.5" y="113.3" font-size="3.6" text-anchor="end" fill="#111" stroke="#111" stroke-width="0.32">60</text>
<line x1="433.0" y1="122.5" x2="507.0" y2="122.5" stroke="#6a6a6a" stroke-width="1.3"/>
<text x="433.5" y="123.3" font-size="3.6" text-anchor="end" fill="#111" stroke="#111" stroke-width="0.32">50</text>
<line x1="433.0" y1="132.5" x2="507.0" y2="132.5" stroke="#6a6a6a" stroke-width="1.3"/>
<text x="433.5" y="133.3" font-size="3.6" text-anchor="end" fill="#111" stroke="#111" stroke-width="0.32">40</text>
<line x1="433.0" y1="142.5" x2="507.0" y2="142.5" stroke="#6a6a6a" stroke-width="1.3"/>
<text x="433.5" y="143.5" font-size="3.6" text-anchor="end" fill="#111" stroke="#111" stroke-width="0.32">30</text>
<line x1="433.0" y1="152.5" x2="507.0" y2="152.5" stroke="#6a6a6a" stroke-width="1.3"/>
<text x="433.5" y="153.5" font-size="3.6" text-anchor="end" fill="#111" stroke="#111" stroke-width="0.32">20</text>
<line x1="433.0" y1="162.5" x2="507.0" y2="162.5" stroke="#6a6a6a" stroke-width="1.3"/>
<text x="433.5" y="163.5" font-size="3.6" text-anchor="end" fill="#111" stroke="#111" stroke-width="0.32">10</text>
<line x1="433.0" y1="172.5" x2="507.0" y2="172.5" stroke="#6a6a6a" stroke-width="1.3"/>
<text x="433.5" y="173.5" font-size="3.6" text-anchor="end" fill="#111" stroke="#111" stroke-width="0.32">0</text>
<line x1="452.5" y1="112.5" x2="452.5" y2="186.7" stroke="#6a6a6a" stroke-width="1.3"/>
<text x="452.5" y="191.2" font-size="5.2" text-anchor="middle" fill="#111" stroke="#111" stroke-width="0.36">2:00</text>
<line x1="474.5" y1="112.5" x2="474.5" y2="186.7" stroke="#6a6a6a" stroke-width="1.3"/>
<text x="474.5" y="191.2" font-size="5.2" text-anchor="middle" fill="#111" stroke="#111" stroke-width="0.36">4:00</text>
<line x1="497.5" y1="112.5" x2="497.5" y2="186.7" stroke="#6a6a6a" stroke-width="1.3"/>
<text x="497.5" y="191.2" font-size="5.2" text-anchor="middle" fill="#111" stroke="#111" stroke-width="0.36">6:00</text>
<line x1="434.5" y1="112.5" x2="434.5" y2="185.5" stroke="#111" stroke-width="0.9"/>
<line x1="434.5" y1="185.5" x2="507.0" y2="185.5" stroke="#111" stroke-width="0.9"/>
<rect x="434.6" y="124.9" width="18.4" height="11.5" fill="#fff"/>
<rect x="465.1" y="113.1" width="29.0" height="7.6" fill="#fff"/>
<rect x="482.1" y="133.1" width="11.2" height="7.5" fill="#fff"/>
<text x="425.8" y="142.5" font-size="5.75" text-anchor="middle" fill="#111" stroke="#111" stroke-width="0.3" transform="rotate(-90 425.8 142.5)">Aggregation (%)</text>
<text x="475.5" y="196.0" font-size="4.85" text-anchor="middle" fill="#111" stroke="#111" stroke-width="0.36">Time (min:sec)</text>
<path d="M433.0,172.2 L440.5,172.2" fill="none" stroke="#111" stroke-width="1.7" stroke-linejoin="round" stroke-linecap="round"/>
<path d="M441.0,172.2 C441.1,174.1 441.4,183.5 441.8,183.7 C442.2,183.9 442.8,177.1 443.5,173.3 C444.2,169.5 445.0,163.9 446.0,160.8 C447.0,157.8 448.2,156.7 449.3,155.0 C450.4,153.3 451.5,151.5 452.3,150.5 C453.1,149.5 453.2,149.9 454.3,148.8 C455.4,147.7 457.1,145.4 459.0,144.0 C460.9,142.6 463.6,141.3 465.7,140.5 C467.8,139.7 469.0,139.1 471.5,139.2 C474.0,139.2 477.5,139.8 480.7,140.8 C483.9,141.8 487.4,143.6 490.7,145.0 C494.0,146.4 498.1,148.0 500.7,149.2 C503.3,150.4 505.5,151.5 506.5,152.0" fill="none" stroke="#111" stroke-width="1.4" stroke-linejoin="round" stroke-linecap="round"/>
<path d="M459.0,144.0 C460.1,143.4 463.6,141.3 465.7,140.5 C467.8,139.7 469.0,139.1 471.5,139.2 C474.0,139.2 477.5,139.8 480.7,140.8 C483.9,141.8 487.4,143.6 490.7,145.0 C494.0,146.4 498.1,148.0 500.7,149.2 C503.3,150.4 505.5,151.5 506.5,152.0" fill="none" stroke="#111" stroke-width="1.9" stroke-linecap="round" stroke-dasharray="0.01 2.4"/>
<path d="M441.5,173.0 C441.7,174.8 442.2,182.8 442.7,183.7 C443.2,184.6 444.1,181.4 444.7,178.3 C445.2,175.2 445.2,168.6 446.0,165.0 C446.8,161.4 448.1,159.5 449.3,156.7 C450.6,153.9 451.9,151.4 453.5,148.3 C455.1,145.2 457.0,141.6 459.0,138.3 C461.0,135.0 463.9,130.8 465.7,128.3 C467.5,125.8 468.4,124.5 469.8,123.3 C471.2,122.1 471.6,121.6 474.0,121.3 C476.4,121.0 480.4,121.1 484.0,121.3 C487.6,121.5 491.9,122.0 495.7,122.5 C499.4,123.0 504.7,123.9 506.5,124.2" fill="none" stroke="#262626" stroke-width="0.75" stroke-linejoin="round" stroke-linecap="round"/>
<line x1="441.0" y1="161.7" x2="441.0" y2="169.0" stroke="#111" stroke-width="1.3"/>
<path d="M439.0,165.5 L443.0,165.5 L441.0,170.5Z" fill="#111"/>
<text x="437.0" y="128.7" font-size="4.5" fill="#111" stroke="#111" stroke-width="0.3">1.0 µM</text>
<text x="435.2" y="135.8" font-size="4.9" fill="#111" stroke="#111" stroke-width="0.3">U46619</text>
<text x="465.7" y="118.7" font-size="7.0" font-weight="bold" fill="#111" stroke="#111" stroke-width="0.3">+/G184S</text>
<text x="482.7" y="138.7" font-size="6.9" font-weight="bold" fill="#111" stroke="#111" stroke-width="0.3">+/+</text>
<line x1="340.0" y1="206.5" x2="414.7" y2="206.5" stroke="#6a6a6a" stroke-width="1.3"/>
<text x="340.5" y="207.7" font-size="4.6" text-anchor="end" fill="#111" stroke="#111" stroke-width="0.32">50</text>
<line x1="340.0" y1="217.5" x2="414.7" y2="217.5" stroke="#6a6a6a" stroke-width="1.3"/>
<text x="340.5" y="219.5" font-size="4.6" text-anchor="end" fill="#111" stroke="#111" stroke-width="0.32">40</text>
<line x1="340.0" y1="229.5" x2="414.7" y2="229.5" stroke="#6a6a6a" stroke-width="1.3"/>
<text x="340.5" y="231.5" font-size="4.6" text-anchor="end" fill="#111" stroke="#111" stroke-width="0.32">30</text>
<line x1="340.0" y1="241.5" x2="414.7" y2="241.5" stroke="#6a6a6a" stroke-width="1.3"/>
<text x="340.5" y="243.5" font-size="4.6" text-anchor="end" fill="#111" stroke="#111" stroke-width="0.32">20</text>
<line x1="340.0" y1="253.5" x2="414.7" y2="253.5" stroke="#6a6a6a" stroke-width="1.3"/>
<text x="340.5" y="255.4" font-size="4.6" text-anchor="end" fill="#111" stroke="#111" stroke-width="0.32">10</text>
<line x1="340.0" y1="266.5" x2="414.7" y2="266.5" stroke="#6a6a6a" stroke-width="1.3"/>
<text x="340.5" y="267.7" font-size="4.6" text-anchor="end" fill="#111" stroke="#111" stroke-width="0.32">0</text>
<line x1="363.5" y1="206.5" x2="363.5" y2="281.7" stroke="#6a6a6a" stroke-width="1.3"/>
<text x="363.5" y="285.1" font-size="5.1" text-anchor="middle" fill="#111" stroke="#111" stroke-width="0.36">2:00</text>
<line x1="388.5" y1="206.5" x2="388.5" y2="281.7" stroke="#6a6a6a" stroke-width="1.3"/>
<text x="388.5" y="285.1" font-size="5.1" text-anchor="middle" fill="#111" stroke="#111" stroke-width="0.36">4:00</text>
<line x1="414.5" y1="206.5" x2="414.5" y2="281.7" stroke="#6a6a6a" stroke-width="1.3"/>
<text x="414.5" y="285.1" font-size="5.1" text-anchor="middle" fill="#111" stroke="#111" stroke-width="0.36">6:00</text>
<line x1="341.5" y1="206.5" x2="341.5" y2="280.5" stroke="#111" stroke-width="0.9"/>
<line x1="341.5" y1="280.5" x2="414.7" y2="280.5" stroke="#111" stroke-width="0.9"/>
<rect x="343.9" y="233.7" width="14.5" height="10.9" fill="#fff"/>
<rect x="378.9" y="245.2" width="28.6" height="7.5" fill="#fff"/>
<rect x="374.4" y="266.0" width="10.7" height="7.3" fill="#fff"/>
<text x="330.8" y="235.6" font-size="6.3" text-anchor="middle" fill="#111" stroke="#111" stroke-width="0.3" transform="rotate(-90 330.8 235.6)">Aggregation (%)</text>
<text x="379.2" y="289.5" font-size="5.7" text-anchor="middle" fill="#111" stroke="#111" stroke-width="0.36">Time (min:sec)</text>
<path d="M341.7,266.5 L349.0,266.5" fill="none" stroke="#111" stroke-width="1.8" stroke-linejoin="round" stroke-linecap="round"/>
<path d="M347.8,266.0 L348.7,280.0 L349.5,267.7 L350.7,280.0" fill="none" stroke="#111" stroke-width="0.8" stroke-linejoin="round" stroke-linecap="round"/>
<path d="M354.5,280.2 C355.2,278.4 357.2,272.8 358.7,269.3 C360.2,265.8 362.0,261.9 363.7,259.3 C365.4,256.7 366.9,254.8 368.7,253.5 C370.5,252.2 372.6,251.4 374.5,251.3 C376.4,251.2 378.2,251.5 380.3,252.7 C382.4,253.9 384.8,256.3 387.0,258.5 C389.2,260.7 391.2,263.8 393.7,266.0 C396.1,268.2 399.3,269.8 401.7,271.5 C404.1,273.2 406.4,274.8 408.3,276.0 C410.2,277.2 412.5,278.5 413.3,279.0" fill="none" stroke="#262626" stroke-width="0.75" stroke-linejoin="round" stroke-linecap="round"/>
<path d="M357.8,280.2 C358.4,279.5 359.9,277.2 361.2,276.0 C362.4,274.8 363.9,273.4 365.3,272.7 C366.7,271.9 367.8,271.4 369.5,271.5 C371.2,271.6 373.5,272.5 375.3,273.5 C377.1,274.5 378.9,276.2 380.3,277.3 C381.7,278.4 382.3,279.5 383.7,280.0 C385.1,280.5 387.9,280.2 388.7,280.2" fill="none" stroke="#111" stroke-width="1.3" stroke-linejoin="round" stroke-linecap="round"/>
<line x1="347.0" y1="246.0" x2="347.0" y2="263.0" stroke="#111" stroke-width="0.65"/>
<path d="M345.5,260.3 L348.5,260.3 L347.0,264.5Z" fill="#111"/>
<text x="344.5" y="237.7" font-size="4.75" fill="#111" stroke="#111" stroke-width="0.3">70 µM</text>
<text x="346.2" y="244.0" font-size="4.6" fill="#111" stroke="#111" stroke-width="0.3">AYP</text>
<text x="379.5" y="250.8" font-size="6.9" font-weight="bold" fill="#111" stroke="#111" stroke-width="0.3">+/G184S</text>
<text x="375.0" y="271.4" font-size="6.6" font-weight="bold" fill="#111" stroke="#111" stroke-width="0.3">+/+</text>
<line x1="434.0" y1="206.5" x2="513.2" y2="206.5" stroke="#6a6a6a" stroke-width="1.3"/>
<text x="434.5" y="208.0" font-size="4.6" text-anchor="end" fill="#111" stroke="#111" stroke-width="0.32">50</text>
<line x1="434.0" y1="218.5" x2="513.2" y2="218.5" stroke="#6a6a6a" stroke-width="1.3"/>
<text x="434.5" y="219.7" font-size="4.6" text-anchor="end" fill="#111" stroke="#111" stroke-width="0.32">40</text>
<line x1="434.0" y1="230.5" x2="513.2" y2="230.5" stroke="#6a6a6a" stroke-width="1.3"/>
<text x="434.5" y="231.7" font-size="4.6" text-anchor="end" fill="#111" stroke="#111" stroke-width="0.32">30</text>
<line x1="434.0" y1="241.5" x2="513.2" y2="241.5" stroke="#6a6a6a" stroke-width="1.3"/>
<text x="434.5" y="243.5" font-size="4.6" text-anchor="end" fill="#111" stroke="#111" stroke-width="0.32">20</text>
<line x1="434.0" y1="253.5" x2="513.2" y2="253.5" stroke="#6a6a6a" stroke-width="1.3"/>
<text x="434.5" y="255.5" font-size="4.6" text-anchor="end" fill="#111" stroke="#111" stroke-width="0.32">10</text>
<line x1="434.0" y1="266.5" x2="513.2" y2="266.5" stroke="#6a6a6a" stroke-width="1.3"/>
<text x="434.5" y="267.7" font-size="4.6" text-anchor="end" fill="#111" stroke="#111" stroke-width="0.32">0</text>
<line x1="455.5" y1="206.5" x2="455.5" y2="282.7" stroke="#6a6a6a" stroke-width="1.3"/>
<text x="455.5" y="286.2" font-size="5.1" text-anchor="middle" fill="#111" stroke="#111" stroke-width="0.36">2:00</text>
<line x1="480.5" y1="206.5" x2="480.5" y2="282.7" stroke="#6a6a6a" stroke-width="1.3"/>
<text x="480.5" y="286.2" font-size="5.1" text-anchor="middle" fill="#111" stroke="#111" stroke-width="0.36">4:00</text>
<line x1="505.5" y1="206.5" x2="505.5" y2="282.7" stroke="#6a6a6a" stroke-width="1.3"/>
<text x="505.5" y="286.2" font-size="5.1" text-anchor="middle" fill="#111" stroke="#111" stroke-width="0.36">6:00</text>
<line x1="435.5" y1="206.5" x2="435.5" y2="281.5" stroke="#111" stroke-width="0.9"/>
<line x1="435.5" y1="281.5" x2="513.2" y2="281.5" stroke="#111" stroke-width="0.9"/>
<rect x="437.1" y="234.6" width="14.2" height="10.7" fill="#fff"/>
<rect x="479.7" y="211.2" width="28.6" height="7.5" fill="#fff"/>
<rect x="485.9" y="231.7" width="11.2" height="7.5" fill="#fff"/>
<text x="427.8" y="236.0" font-size="6.3" text-anchor="middle" fill="#111" stroke="#111" stroke-width="0.3" transform="rotate(-90 427.8 236.0)">Aggregation (%)</text>
<text x="477.5" y="290.8" font-size="5.6" text-anchor="middle" fill="#111" stroke="#111" stroke-width="0.36">Time (min:sec)</text>
<path d="M435.8,270.5 L438.0,269.6 L440.0,270.6 L442.0,269.6 L444.0,270.6 L445.5,270.0" fill="none" stroke="#111" stroke-width="2.2" stroke-linejoin="round" stroke-linecap="round"/>
<path d="M436.5,270.0 L436.5,281.0" fill="none" stroke="#262626" stroke-width="0.75" stroke-linejoin="round" stroke-linecap="round"/>
<path d="M445.3,270.0 L446.0,281.0" fill="none" stroke="#262626" stroke-width="0.75" stroke-linejoin="round" stroke-linecap="round"/>
<path d="M448.2,281.0 C448.8,279.1 450.5,274.0 451.7,269.3 C452.9,264.6 454.1,257.4 455.3,252.7 C456.5,248.0 457.8,244.6 459.0,241.0 C460.2,237.4 461.1,233.9 462.3,231.0 C463.6,228.1 465.0,225.3 466.5,223.5 C468.0,221.7 469.7,221.0 471.5,220.2 C473.3,219.4 475.2,218.4 477.3,218.5 C479.4,218.6 481.5,219.6 484.0,221.0 C486.5,222.4 489.5,224.7 492.3,226.8 C495.1,228.9 498.2,231.6 500.7,233.5 C503.2,235.4 505.4,237.1 507.3,238.5 C509.2,239.9 511.5,241.2 512.3,241.8" fill="none" stroke="#262626" stroke-width="0.75" stroke-linejoin="round" stroke-linecap="round"/>
<path d="M450.7,281.0 C451.1,279.6 452.3,276.0 453.3,272.7 C454.3,269.4 455.6,264.6 456.7,261.0 C457.8,257.4 458.9,254.0 460.0,251.0 C461.1,248.0 462.1,245.2 463.2,243.0 C464.3,240.8 465.4,239.3 466.5,238.0 C467.6,236.7 468.5,235.9 470.0,235.3 C471.5,234.7 473.6,234.1 475.7,234.3 C477.8,234.6 480.1,235.7 482.3,236.8 C484.5,237.9 486.5,239.2 489.0,241.0 C491.5,242.8 494.5,245.5 497.3,247.7 C500.1,249.9 503.2,252.3 505.7,254.0 C508.2,255.7 511.2,257.3 512.3,258.0" fill="none" stroke="#111" stroke-width="1.2" stroke-linejoin="round" stroke-linecap="round"/>
<path d="M470.0,235.3 C470.9,235.1 473.6,234.1 475.7,234.3 C477.8,234.6 480.1,235.7 482.3,236.8 C484.5,237.9 486.5,239.2 489.0,241.0 C491.5,242.8 494.5,245.5 497.3,247.7 C500.1,249.9 503.2,252.3 505.7,254.0 C508.2,255.7 511.2,257.3 512.3,258.0" fill="none" stroke="#111" stroke-width="2.0" stroke-linecap="round" stroke-dasharray="0.01 2.0"/>
<line x1="443.4" y1="245.5" x2="443.4" y2="263.0" stroke="#111" stroke-width="0.65"/>
<path d="M441.9,260.3 L444.9,260.3 L443.4,264.5Z" fill="#111"/>
<text x="437.7" y="238.5" font-size="4.65" fill="#111" stroke="#111" stroke-width="0.3">73 µM</text>
<text x="439.8" y="244.7" font-size="4.6" fill="#111" stroke="#111" stroke-width="0.3">AYP</text>
<text x="480.3" y="216.8" font-size="6.9" font-weight="bold" fill="#111" stroke="#111" stroke-width="0.3">+/G184S</text>
<text x="486.5" y="237.3" font-size="6.9" font-weight="bold" fill="#111" stroke="#111" stroke-width="0.3">+/+</text>
<text x="1.3" y="13.4" font-size="16.8" font-weight="bold" fill="#000" stroke="#000" stroke-width="0.25">A</text>
<text x="1.6" y="101.0" font-size="16.8" font-weight="bold" fill="#000" stroke="#000" stroke-width="0.25">B</text>
<text x="1.2" y="192.4" font-size="16.8" font-weight="bold" fill="#000" stroke="#000" stroke-width="0.25">C</text>
<text x="1.6" y="281.0" font-size="16.8" font-weight="bold" fill="#000" stroke="#000" stroke-width="0.25">D</text>
<text x="262.3" y="13.7" font-size="16.8" font-weight="bold" fill="#000" stroke="#000" stroke-width="0.25">E</text>
<text x="262.3" y="118.4" font-size="16.8" font-weight="bold" fill="#000" stroke="#000" stroke-width="0.25">F</text>
<text x="261.7" y="213.4" font-size="16.8" font-weight="bold" fill="#000" stroke="#000" stroke-width="0.25">G</text>
<text x="12.5" y="34.2" font-size="6.9" fill="#1a1a1a" stroke="#1a1a1a" stroke-width="0.15">Collagen +</text>
<text x="12.5" y="43.0" font-size="6.9" fill="#1a1a1a" stroke="#1a1a1a" stroke-width="0.15">Cangrelor</text>
<text x="12.5" y="120.5" font-size="6.9" fill="#1a1a1a" stroke="#1a1a1a" stroke-width="0.15">Convulxin +</text>
<text x="12.5" y="128.9" font-size="6.9" fill="#1a1a1a" stroke="#1a1a1a" stroke-width="0.15">Cangrelor</text>
<text x="12.5" y="214.3" font-size="6.9" fill="#1a1a1a" stroke="#1a1a1a" stroke-width="0.15">PAR4 agonist</text>
<text x="12.0" y="223.0" font-size="6.9" fill="#1a1a1a" stroke="#1a1a1a" stroke-width="0.15">(AYPGKF) +</text>
<text x="12.5" y="231.7" font-size="6.9" fill="#1a1a1a" stroke="#1a1a1a" stroke-width="0.15">Cangrelor</text>
<text x="12.5" y="300.5" font-size="6.9" fill="#1a1a1a" stroke="#1a1a1a" stroke-width="0.15">U46619 +</text>
<text x="12.5" y="308.9" font-size="6.9" fill="#1a1a1a" stroke="#1a1a1a" stroke-width="0.15">Cangrelor</text>
<text x="273.3" y="34.7" font-size="6.9" fill="#1a1a1a" stroke="#1a1a1a" stroke-width="0.15">PAR4 agonist</text>
<text x="272.4" y="43.5" font-size="6.9" fill="#1a1a1a" stroke="#1a1a1a" stroke-width="0.15">(AYPGKF) +</text>
<text x="272.7" y="52.0" font-size="6.9" fill="#1a1a1a" stroke="#1a1a1a" stroke-width="0.15">apyrase</text>
<text x="272.7" y="137.5" font-size="6.9" fill="#1a1a1a" stroke="#1a1a1a" stroke-width="0.15">U46619 +</text>
<text x="272.7" y="145.9" font-size="6.9" fill="#1a1a1a" stroke="#1a1a1a" stroke-width="0.15">apyrase</text>
<text x="272.7" y="231.8" font-size="6.9" fill="#1a1a1a" stroke="#1a1a1a" stroke-width="0.15">PAR4 agonist</text>
<text x="272.2" y="240.6" font-size="6.9" fill="#1a1a1a" stroke="#1a1a1a" stroke-width="0.15">(AYPGKF) +</text>
<text x="272.7" y="249.2" font-size="6.9" fill="#1a1a1a" stroke="#1a1a1a" stroke-width="0.15">apyrase + ASA</text>
</svg>
</body></html>
